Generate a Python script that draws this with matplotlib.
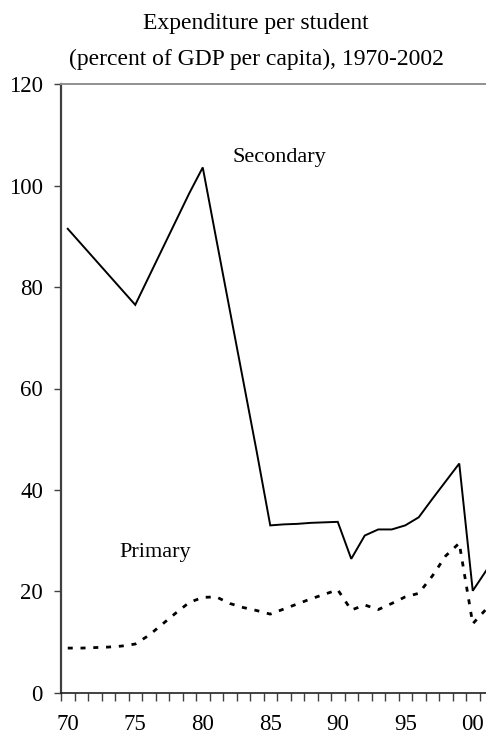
import matplotlib
matplotlib.use("Agg")
import matplotlib.pyplot as plt
from matplotlib.ticker import FixedLocator

years = list(range(1970, 2002))
secondary = [91.5, 88.5, 85.5, 82.5, 79.5, 76.5, 82.0, 87.5, 93.0, 98.5, 103.6,
             89.5, 75.5, 61.5, 47.5, 33.0, 33.2, 33.3, 33.5, 33.6, 33.7,
             26.4, 31.0, 32.2, 32.2, 33.0, 34.6, 38.2, 41.7, 45.2, 20.1, 24.1]
primary = [8.8, 8.8, 8.9, 9.0, 9.2, 9.6, 11.3, 13.5, 15.7, 17.8, 18.8,
           18.9, 17.6, 16.8, 16.2, 15.5, 16.5, 17.5, 18.5, 19.4, 20.3,
           16.3, 17.3, 16.4, 17.6, 18.9, 19.6, 23.0, 27.0, 29.5, 13.6, 16.5]
major_years = [1970, 1975, 1980, 1985, 1990, 1995, 2000]
major_labels = ["70", "75", "80", "85", "90", "95", "00"]
yticks = [0, 20, 40, 60, 80, 100, 120]

plt.rcParams["font.family"] = ["Liberation Serif", "DejaVu Serif"]

fig = plt.figure(figsize=(4.86, 7.36), dpi=100)
ax = fig.add_axes([61 / 486, 43.3 / 736, 432 / 486, 608.4 / 736])

ax.plot(years, secondary, color="black", lw=1.4, solid_joinstyle="miter")
ax.plot(years, primary, color="black", lw=2.0, linestyle=(0, (1.8, 2.8)))

ax.set_xlim(1969.5, 2001.5)
ax.set_ylim(0, 120)

ax.set_yticks(yticks)
ax.tick_params(axis="y", direction="out", length=5, width=1, color="#404040",
               labelsize=16.5, pad=8)

ax.xaxis.set_major_locator(FixedLocator(major_years))
ax.set_xticklabels(major_labels)
ax.xaxis.set_minor_locator(FixedLocator([y - 0.5 for y in years] + [2001.5]))
ax.tick_params(axis="x", which="major", length=0, labelsize=16.5, pad=15)
ax.tick_params(axis="x", which="minor", direction="out", length=6, width=1,
               color="#404040")

ax.spines["left"].set_color("#404040")
ax.spines["left"].set_linewidth(1.6)
ax.spines["bottom"].set_color("#202020")
ax.spines["bottom"].set_linewidth(1.2)
ax.spines["top"].set_color("#909090")
ax.spines["top"].set_linewidth(1.4)
ax.spines["right"].set_visible(False)

ax.text(1985.7, 105.6, "Secondary", fontsize=16, ha="center", va="center")
ax.text(1976.5, 27.6, "Primary", fontsize=16, ha="center", va="center")

fig.text(256 / 486, 1 - 24 / 736, "Expenditure per student", fontsize=17,
         ha="center", va="center")
fig.text(256 / 486, 1 - 59 / 736, "(percent of GDP per capita), 1970-2002",
         fontsize=17, ha="center", va="center")

fig.savefig("out.png", dpi=100)
